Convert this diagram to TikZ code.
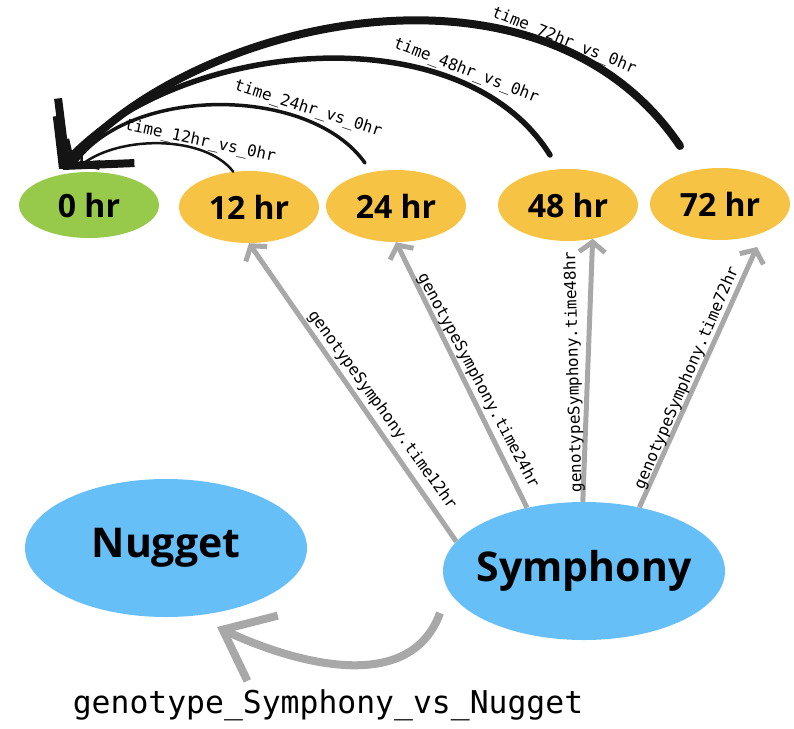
\documentclass[tikz,border=0pt]{standalone}
\usepackage{fontspec}
\setmainfont{Open Sans}
\newfontfamily\monofont{DejaVu Sans Mono}
\usetikzlibrary{shapes.geometric,arrows.meta,calc}
\definecolor{greenN}{RGB}{151,201,75}
\definecolor{orangeN}{RGB}{247,195,68}
\definecolor{blueN}{RGB}{103,191,248}
\definecolor{grayL}{RGB}{168,168,168}
\definecolor{blackL}{RGB}{20,20,20}
\begin{document}
\begin{tikzpicture}[x=1pt,y=-1pt,
  hrnode/.style={ellipse, inner sep=0pt, minimum width=140pt, minimum height=72pt,
    font=\fontsize{32}{36}\selectfont\bfseries, fill=orangeN},
  bignode/.style={ellipse, inner sep=0pt, minimum width=282pt, minimum height=138pt,
    fill=blueN, font=\fontsize{41}{46}\selectfont\bfseries},
  garrow/.style={draw=grayL, line width=5pt, -{Straight Barb[length=10pt,width=26pt]}},
  glabel/.style={font=\monofont\fontsize{16}{18}\selectfont, inner sep=0pt},
  blabel/.style={font=\monofont\fontsize{16}{18}\selectfont, inner sep=0pt},
  barc/.style={draw=blackL, line cap=round}
]
\useasboundingbox (0,0) rectangle (794,728);

% time nodes
\node[hrnode, fill=greenN, minimum height=66pt] (n0) at (89,205) {0 hr};
\node[hrnode] (n12) at (249,207) {12 hr};
\node[hrnode] (n24) at (396,206) {24 hr};
\node[hrnode] (n48) at (568,205) {48 hr};
\node[hrnode] (n72) at (720,204) {72 hr};

% genotype nodes
\node[bignode] (nug) at (166,548) {\makebox[0pt]{Nugget}};
\node[bignode] (sym) at (584,571) {\makebox[0pt]{Symphony}};

% black arc end/start points
\coordinate (e12) at ($(n0.center)+(-9,-39)$);
\coordinate (e24) at ($(n0.center)+(-17,-38)$);
\coordinate (e48) at ($(n0.center)+(-30,-36)$);
\coordinate (e72) at ($(n0.center)+(-26,-35)$);
\coordinate (s24) at ($(n24.center)+(-31,-43)$);
\coordinate (s48) at ($(n48.center)+(-18,-50)$);
\coordinate (s72) at ($(n72.center)+(-40,-58)$);

\draw[barc, line width=2.5pt, -{Straight Barb[length=12pt,width=28pt]}]
  (n12.114) .. controls (205,135) and (120,135) .. (e12);
\draw[barc, line width=3.5pt, -{Straight Barb[length=18pt,width=40pt]}]
  (s24) .. controls (310,85) and (130,85) .. (e24);
\draw[barc, line width=5.5pt, -{Straight Barb[length=34pt,width=74pt]}]
  (s48) .. controls (460,10) and (170,40) .. (e48);
\draw[barc, line width=8pt, -{Straight Barb[length=46pt,width=100pt]}]
  (s72) .. controls (540,-62) and (190,20) .. (e72);

\node[blabel, rotate=-12] (l12) at (200,141) {time\_12hr\_vs\_0hr};
\node[blabel, rotate=-18] (l24) at (308,109) {time\_24hr\_vs\_0hr};
\node[blabel, rotate=-21] (l48) at (466,71) {time\_48hr\_vs\_0hr};
\node[blabel, rotate=-22] (l72) at (564,41) {time\_72hr\_vs\_0hr};

% gray arrows
\draw[garrow] (sym.167) -- (n12.south);
\draw[garrow] (sym.132) -- (n24.south);
\draw[garrow] (sym.91) -- (n48.-54);
\draw[garrow] (sym.49) -- ($(n72.center)+(37,43)$);

\node[glabel, rotate=-54] (g12) at (382,410) {genotypeSymphony.time12hr};
\node[glabel, rotate=-62] (g24) at (478,381) {genotypeSymphony.time24hr};
\node[glabel, rotate=91.5] (g48) at (574,372) {genotypeSymphony.time48hr};
\node[glabel, rotate=66.7] (g72) at (687,378) {genotypeSymphony.time72hr};

% genotype arrow
\draw[draw=grayL, line width=8pt, -{Straight Barb[length=44pt,width=72pt]}]
  ($(sym.center)+(-144,42)$) to[out=-110,in=-25] ($(nug.center)+(51,79)$);
\node[font=\monofont\fontsize{31.4}{36}\selectfont, anchor=base, inner sep=0pt] (lg) at (328,713)
  {genotype\_Symphony\_vs\_Nugget};
\end{tikzpicture}
\end{document}
